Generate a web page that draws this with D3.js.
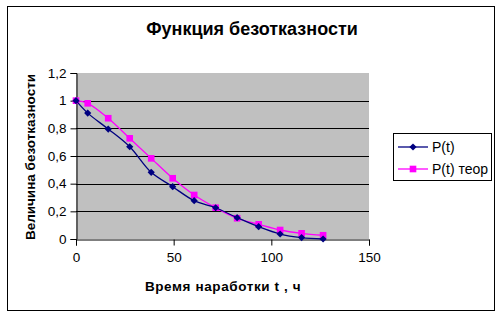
<!DOCTYPE html>
<html>
<head>
<meta charset="utf-8">
<script src="https://cdn.jsdelivr.net/npm/d3@7"></script>
<style>
  body { margin: 0; background: #fff; }
  svg { display: block; font-family: Arial, "Liberation Sans", sans-serif; }
</style>
</head>
<body>
<div id="viz"></div>
<script>
const hours = [0, 6, 16.5, 27.5, 38.5, 49.5, 60.5, 71.5, 82.5, 93.5, 104.5, 115.5, 126.5];
const pActual = [1, 0.91, 0.795, 0.667, 0.482, 0.378, 0.277, 0.226, 0.154, 0.089, 0.036, 0.01, 0];
const pTheory = [1, 0.981, 0.873, 0.728, 0.583, 0.439, 0.318, 0.226, 0.15, 0.106, 0.065, 0.041, 0.027];
const xTicks = [0, 50, 100, 150];
const yTicks = [0, 0.2, 0.4, 0.6, 0.8, 1, 1.2];
const seriesNames = ['P(t)', 'P(t) теор'];

const width = 504,
    height = 317;

const plot = { left: 76, right: 369, top: 73, bottom: 239 };

const svg = d3.select('#viz').append('svg')
    .attr('width', width)
    .attr('height', height);

// chart frame
svg.append('rect')
    .attr('x', 7.5).attr('y', 6.5)
    .attr('width', 487).attr('height', 304)
    .attr('fill', '#fff')
    .attr('stroke', '#000')
    .attr('stroke-width', 1);

const x = d3.scaleLinear().domain([0, 150]).range([plot.left, plot.right]);
const y = d3.scaleLinear().domain([0, 1.2]).range([plot.bottom, plot.top]);

svg.append('rect')
    .attr('x', plot.left).attr('y', plot.top)
    .attr('width', plot.right - plot.left)
    .attr('height', plot.bottom - plot.top)
    .attr('fill', '#c0c0c0');

// gridlines
svg.append('g')
    .selectAll('line')
    .data(yTicks.filter(d => d > 0 && d < 1.2))
    .join('line')
    .attr('x1', plot.left).attr('x2', plot.right)
    .attr('y1', d => Math.round(y(d)) + 0.5)
    .attr('y2', d => Math.round(y(d)) + 0.5)
    .attr('stroke', '#000');

// axes
const yAxis = svg.append('g')
    .attr('transform', `translate(${plot.left + 0.5},0)`)
    .call(d3.axisLeft(y).tickValues(yTicks).tickSize(6).tickPadding(4)
        .tickFormat(d => String(+d.toFixed(1)).replace('.', ',')));

const xAxis = svg.append('g')
    .attr('transform', `translate(0,${plot.bottom + 0.5})`)
    .call(d3.axisBottom(x).tickValues(xTicks).tickSize(6).tickPadding(7));

[xAxis, yAxis].forEach(a => {
    a.selectAll('text').attr('font-size', 13.5).attr('font-family', 'Arial, "Liberation Sans", sans-serif').attr('fill', '#000');
    a.selectAll('line, path').attr('stroke', '#000');
});

// series
const series = [
    { name: seriesNames[0], values: pActual, color: '#000080', symbol: d3.symbolSquare, size: 26, rot: 45 },
    { name: seriesNames[1], values: pTheory, color: '#ff00ff', symbol: d3.symbolSquare, size: 44, rot: 0 }
];

const line = d3.line()
    .x(d => x(d[0]))
    .y(d => y(d[1]))
    .curve(d3.curveCatmullRom.alpha(0.5));

series.slice().reverse().forEach(s => {
    const pts = hours.map((h, i) => [h, s.values[i]]);
    const g = svg.append('g');
    g.append('path')
        .attr('d', line(pts))
        .attr('fill', 'none')
        .attr('stroke', s.color)
        .attr('stroke-width', 1.3);
    g.selectAll('path.m')
        .data(pts)
        .join('path')
        .attr('class', 'm')
        .attr('transform', d => `translate(${x(d[0])},${y(d[1])}) rotate(${s.rot})`)
        .attr('d', d3.symbol().type(s.symbol).size(s.size))
        .attr('fill', s.color);
});

// titles
svg.append('text')
    .attr('x', 252).attr('y', 35)
    .attr('text-anchor', 'middle')
    .attr('font-size', 18).attr('font-weight', 'bold')
    .text('Функция безотказности');

svg.append('text')
    .attr('x', 223).attr('y', 291)
    .attr('text-anchor', 'middle')
    .attr('font-size', 13.5).attr('font-weight', 'bold')
    .attr('letter-spacing', 0.6)
    .text('Время наработки t , ч');

svg.append('text')
    .attr('transform', 'translate(35,157) rotate(-90)')
    .attr('text-anchor', 'middle')
    .attr('font-size', 13.5).attr('font-weight', 'bold')
    .text('Величина безотказности');

// legend
const legend = svg.append('g');
legend.append('rect')
    .attr('x', 393.5).attr('y', 133.5)
    .attr('width', 98).attr('height', 47)
    .attr('fill', '#fff').attr('stroke', '#000');

series.forEach((s, i) => {
    const ly = 147 + i * 22;
    legend.append('line')
        .attr('x1', 398).attr('x2', 428)
        .attr('y1', ly).attr('y2', ly)
        .attr('stroke', s.color).attr('stroke-width', 1.3);
    legend.append('path')
        .attr('transform', `translate(413,${ly}) rotate(${s.rot})`)
        .attr('d', d3.symbol().type(s.symbol).size(s.size))
        .attr('fill', s.color);
    legend.append('text')
        .attr('x', 432).attr('y', ly + 5)
        .attr('font-size', 14)
        .text(s.name);
});
</script>
</body>
</html>
